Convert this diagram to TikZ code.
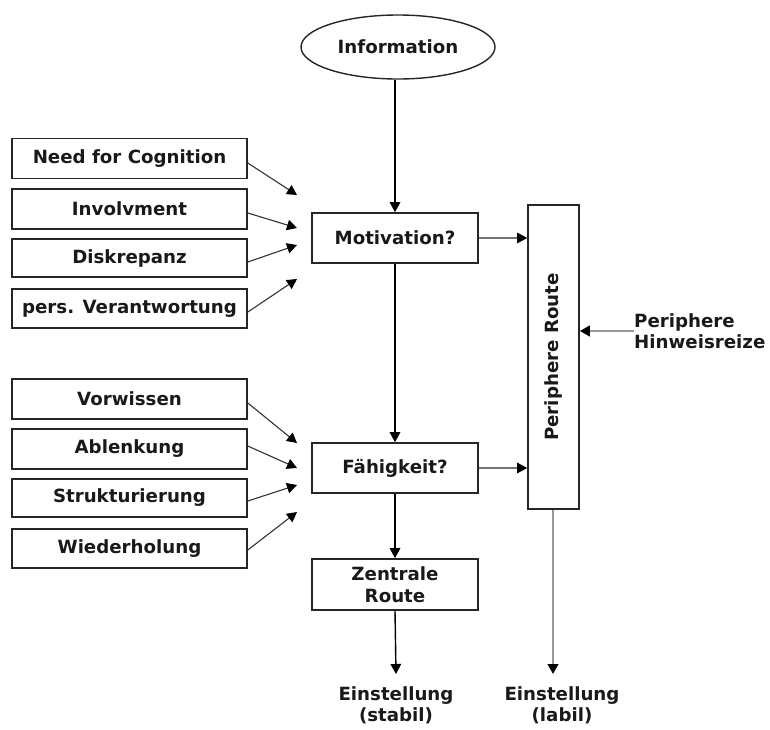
\documentclass[tikz,border=0pt]{standalone}
\usepackage{fontspec}
\setmainfont{DejaVu Sans}
\usetikzlibrary{arrows.meta,shapes.geometric}
\begin{document}
\begin{tikzpicture}[x=1pt,y=-1pt,
  font=\fontsize{18.2}{21.5}\selectfont\bfseries,
  every node/.style={inner sep=0pt, text=black!90},
  box/.style={draw=black!85, line width=1.6pt, minimum height=40pt},
  leftbox/.style={box, minimum width=235pt},
  midbox/.style={box, minimum width=166pt, minimum height=50pt},
  tip/.style={-{Triangle[length=10pt,width=10.5pt,color=black]}},
  arr/.style={line width=1.4pt, tip},
  side arr/.style={line width=1.1pt, draw=black!80, tip},
  thin arr/.style={line width=1.2pt, draw=black!55, tip},
  gray arr/.style={line width=2.4pt, draw=black!40, tip}
]
\useasboundingbox (0,0) rectangle (770,729);

% central chain
\node[ellipse, draw=black!85, line width=1.4pt, minimum width=194pt, minimum height=64pt] (info) at (398,47) {Information};
\node[midbox] (mot) at (395,238) {Motivation?};
\node[midbox] (fah) at (395,468) {Fähigkeit?};
\node[midbox, minimum height=51pt, align=center] (zen) at (395,584.5) {Zentrale\\Route};
\node[box, minimum width=51pt, minimum height=304pt] (per) at (553.5,357) {};
\node[rotate=90] (perlabel) at (per.center) {Periphere Route};

% outcomes and peripheral cues
\node[anchor=north, align=center] (stabil) at (396,686) {Einstellung\\(stabil)};
\node[anchor=north, align=center] (labil) at (562,686) {Einstellung\\(labil)};
\node[anchor=west, align=left] (hin) at (634,331) {Periphere\\Hinweisreize};
\coordinate (stabiltip) at (396,674);
\coordinate (labiltip) at (553,674);

% factors influencing motivation
\node[leftbox] (need) at (129.5,158.5) {Need for Cognition};
\node[leftbox] (inv)  at (129.5,209)   {Involvment};
\node[leftbox, minimum height=38pt] (dis)  at (129.5,258)   {Diskrepanz};
\node[leftbox, minimum height=39pt] (pers) at (129.5,308.5) {pers. Verantwortung};

% factors influencing ability
\node[leftbox] (vor) at (129.5,399)   {Vorwissen};
\node[leftbox] (abl) at (129.5,449)   {Ablenkung};
\node[leftbox, minimum height=38pt] (str) at (129.5,498)   {Strukturierung};
\node[leftbox, minimum height=39pt] (wie) at (129.5,548.5) {Wiederholung};

\coordinate (m1) at (297,195);
\coordinate (m2) at (297,228);
\coordinate (m3) at (297,245);
\coordinate (m4) at (297,279);
\coordinate (f1) at (297,443);
\coordinate (f2) at (297,468);
\coordinate (f3) at (297,485);
\coordinate (f4) at (297,512);

\draw[side arr] ([yshift=-4.5pt]need.east) -- (m1);
\draw[side arr] ([yshift=-4pt]inv.east) -- (m2);
\draw[side arr] ([yshift=-4pt]dis.east) -- (m3);
\draw[side arr] ([yshift=-3.5pt]pers.east) -- (m4);
\draw[side arr] ([yshift=-4pt]vor.east) -- (f1);
\draw[side arr] ([yshift=3pt]abl.east) -- (f2);
\draw[side arr] ([yshift=-3pt]str.east) -- (f3);
\draw[side arr] ([yshift=-1.5pt]wie.east) -- (f4);

% main flow
\draw[arr] (info.south -| mot.north) -- (mot.north);
\draw[arr] (mot) -- (fah);
\draw[arr] (fah) -- (zen);
\draw[arr] (zen.south) -- (stabiltip);
\draw[thin arr] (mot.east) -- (mot.east -| per.west);
\draw[thin arr] (fah.east) -- (fah.east -| per.west);
\draw[gray arr] (hin.west) -- (hin.west -| per.east);
\draw[gray arr] (per.south -| labiltip) -- (labiltip);
\end{tikzpicture}
\end{document}
